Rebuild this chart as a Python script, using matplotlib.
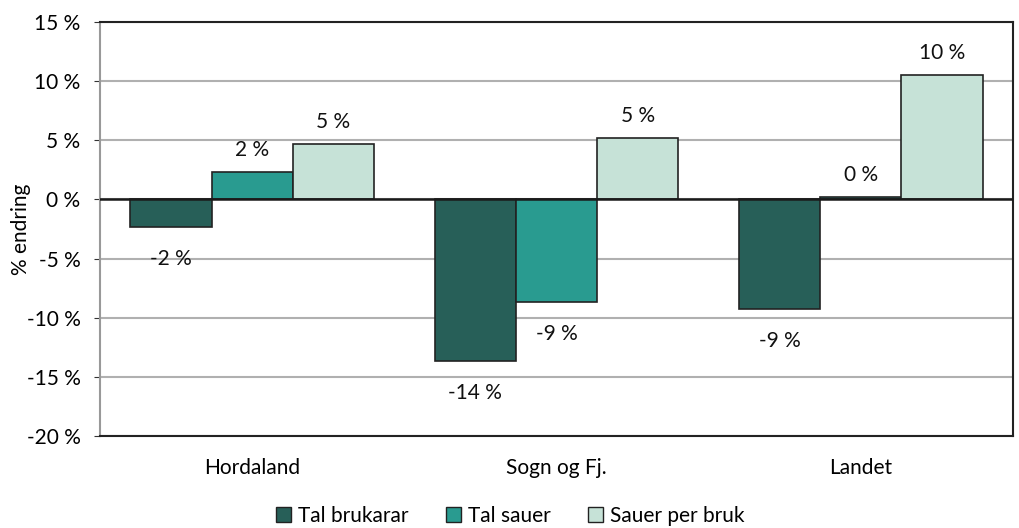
import matplotlib
matplotlib.use("Agg")
import matplotlib.pyplot as plt
import numpy as np

plt.rcParams['font.family'] = ['Lato', 'DejaVu Sans']

categories = ["Hordaland", "Sogn og Fj.", "Landet"]
series_names = ["Tal brukarar", "Tal sauer", "Sauer per bruk"]
tal_brukarar = [-2.3, -13.7, -9.3]
tal_sauer = [2.3, -8.7, 0.2]
sauer_per_bruk = [4.7, 5.2, 10.5]
labels = [["-2 %", "-14 %", "-9 %"], ["2 %", "-9 %", "0 %"], ["5 %", "5 %", "10 %"]]
colors = ["#275f58", "#299b90", "#c6e2d7"]
yticks = [-20, -15, -10, -5, 0, 5, 10, 15]

FS = 15

fig = plt.figure(figsize=(10.19, 5.28), dpi=100)
ax = fig.add_axes([100/1019, 1-436/528, 913/1019, 414/528])

x = np.arange(len(categories))
w = 0.267
data = [tal_brukarar, tal_sauer, sauer_per_bruk]
for i, (vals, name, c) in enumerate(zip(data, series_names, colors)):
    pos = x + (i - 1) * w
    ax.bar(pos, vals, w, color=c, edgecolor="#222222", linewidth=1.2, label=name, zorder=3)
    for p, v, lab in zip(pos, vals, labels[i]):
        if v >= 0:
            off = 16
        else:
            off = -23
        ax.annotate(lab, (p, v), xytext=(0, off), textcoords="offset points",
                    ha="center", va="center", fontsize=FS, color="#111111")

ax.set_xlim(-0.5, 2.5)
ax.set_ylim(-20, 15)
ax.set_yticks(yticks)
ax.set_yticklabels([f"{t} %" for t in yticks], fontsize=FS)
ax.set_xticks(x)
ax.set_xticklabels(categories, fontsize=FS)
ax.tick_params(axis="x", length=0, pad=16)
ax.tick_params(axis="y", length=4, color="#333333", pad=10)
ax.yaxis.grid(True, color="#b0b0b0", linewidth=1.5, zorder=0)
ax.axhline(0, color="#1a1a1a", linewidth=1.8, zorder=4)
ax.set_ylabel("% endring", fontsize=FS, labelpad=-3)
for s in ["top", "right", "bottom"]:
    ax.spines[s].set_color("#222222")
    ax.spines[s].set_linewidth(1.5)
ax.spines["left"].set_color("#999999")
ax.spines["left"].set_linewidth(1.5)

handles, labs = ax.get_legend_handles_labels()
leg = fig.legend(handles, labs, loc="center", bbox_to_anchor=(510/1019, 1-516/528), ncol=3,
                 frameon=False, fontsize=FS, handlelength=0.75, handleheight=0.75,
                 handletextpad=0.3, columnspacing=1.8, borderaxespad=0, borderpad=0)
for h in leg.legend_handles:
    h.set_linewidth(1.0)

fig.savefig("out.png", dpi=100)
